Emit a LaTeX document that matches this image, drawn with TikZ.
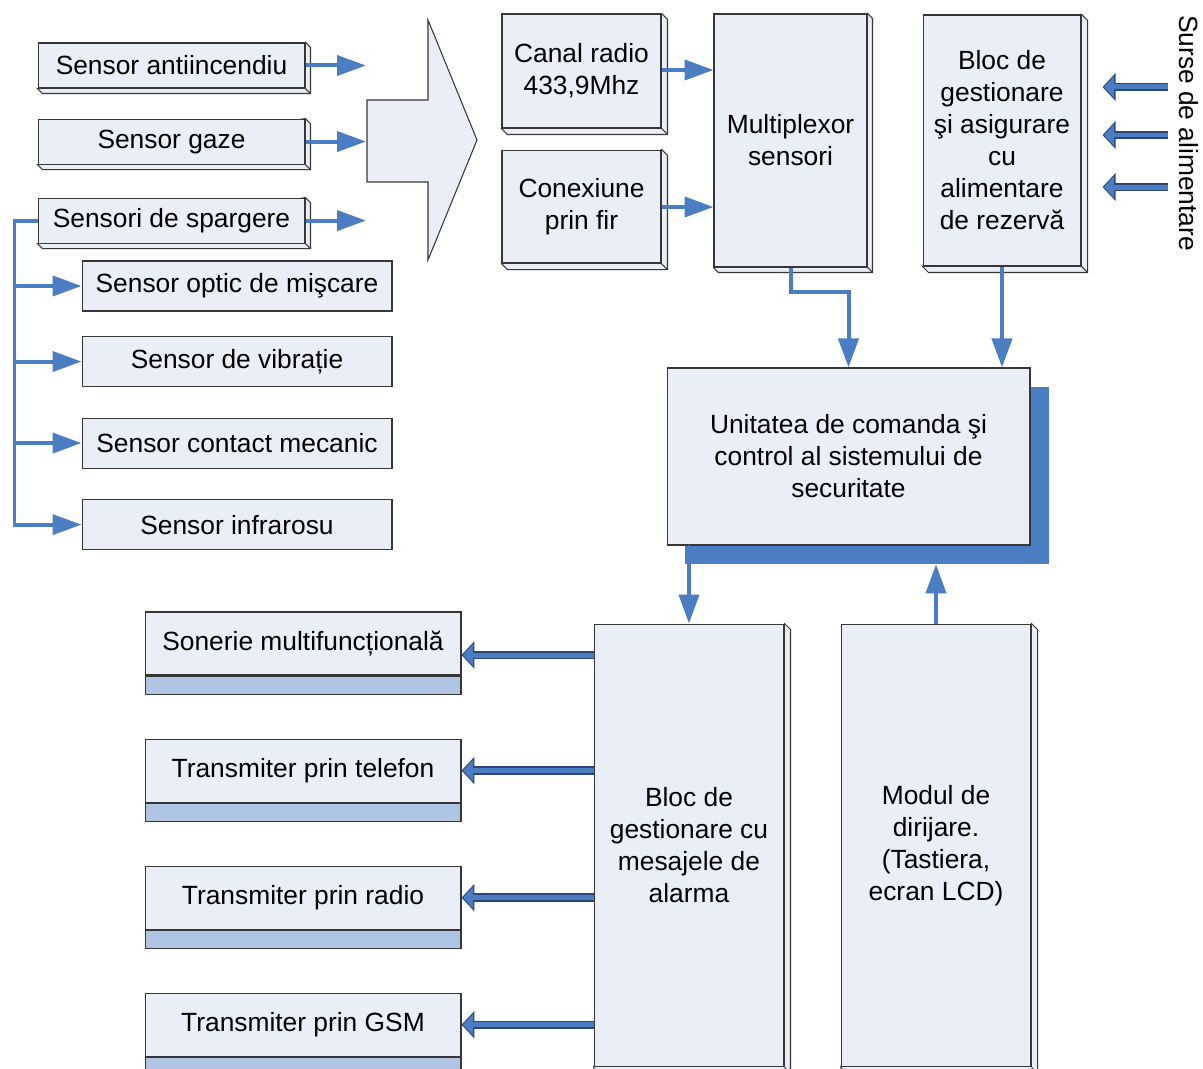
\documentclass[tikz,border=0pt]{standalone}
\usepackage{fontspec}
\setmainfont{Liberation Sans}
\usetikzlibrary{arrows.meta, positioning, backgrounds, calc}
\definecolor{boxfill}{RGB}{233, 238, 247}
\definecolor{edgegray}{RGB}{55, 55, 55}
\definecolor{linkblue}{RGB}{74, 125, 194}
\definecolor{stripblue}{RGB}{176, 196, 228}
\definecolor{arrownavy}{RGB}{45, 70, 115}

\begin{document}
\begin{tikzpicture}[
            x=0.02cm, y=-0.02cm,
            font=\fontsize{15pt}{18.2pt}\selectfont,
            blok/.style={draw=edgegray, line width=0.6pt, fill=boxfill, inner sep=0pt, align=center},
            senzor/.style={blok, minimum width=5.34cm, minimum height=0.9cm},
            flat/.style={blok, minimum width=6.2cm, minimum height=1cm},
            iesire/.style={blok, minimum width=6.32cm, minimum height=1.26cm},
            banda/.style={draw=edgegray, line width=0.6pt, fill=stripblue, inner sep=0pt, minimum width=6.32cm, minimum height=0.37cm},
            bevel/.style={draw=edgegray, line width=0.6pt, fill=boxfill},
            flux/.style={draw=linkblue, line width=0.08cm, -{Triangle[length=0.58cm, width=0.4cm]}},
            bloc/.style={draw=linkblue, line width=0.1cm, -{Triangle[length=0.2cm, width=0.42cm]}, shorten >=0.03cm,
                preaction={draw=arrownavy, line width=0.17cm, -{Triangle[length=0.26cm, width=0.54cm]}, shorten >=0pt}}
        ]
            \useasboundingbox (0,0) rectangle (1203,1068);

            % senzori
            \node[senzor] (antiinc) at (171.5,65.5) {Sensor antiincendiu};
            \node[senzor, below=0.6cm of antiinc] (gaze) {Sensor gaze};
            \node[senzor, below=0.66cm of gaze] (sparg) {Sensori de spargere};
            \node[flat] (optic) at (237,286) {Sensor optic de mişcare};
            \node[flat, below=0.49cm of optic] (vibr) {Sensor de vibrație};
            \node[flat, below=0.61cm of vibr] (contact) {Sensor contact mecanic};
            \node[flat, below=0.61cm of contact] (infra) {Sensor infrarosu};

            % sageata mare
            \draw[bevel] (367,100) -- (428,100) -- (428,20) -- (477,140) -- (428,260) -- (428,182) -- (367,182) -- cycle;
            \coordinate (colector) at (366,141);

            % canale si multiplexor
            \node[blok, minimum width=3.18cm, minimum height=2.28cm] (radio) at (581.5,71) {Canal radio\\433,9Mhz};
            \node[blok, minimum width=3.18cm, minimum height=2.26cm, below=0.42cm of radio] (fir) {Conexiune\\prin fir};
            \node[blok, minimum width=3.06cm, minimum height=5.06cm] (mux) at (790.5,140.5) {Multiplexor\\sensori};
            \node[blok, minimum width=3.16cm, minimum height=5.02cm] (alim) at (1002,140.5) {Bloc de\\gestionare\\şi asigurare\\cu\\alimentare\\de rezervă};
            \node[rotate=-90, inner sep=0pt] (surse) at (1189,133) {Surse de alimentare};

            % unitatea centrala
            \node[fill=linkblue, inner sep=0pt, minimum width=7.28cm, minimum height=3.54cm] (umbra) at (867,475.5) {};
            \node[blok, minimum width=7.26cm, minimum height=3.54cm] (unit) at (848.5,456.5) {Unitatea de comanda şi\\control al sistemului de\\securitate};

            \node[blok, minimum width=3.8cm, minimum height=8.86cm] (alarma) at (689,845.5) {Bloc de\\gestionare cu\\mesajele de\\alarma};
            \node[blok, minimum width=3.8cm, minimum height=8.86cm, right=1.12cm of alarma] (modul) {Modul de\\dirijare.\\(Tastiera,\\ecran LCD)};

            % iesiri
            \node[iesire] (son) at (303,643.5) {Sonerie multifuncțională};
            \node[banda, below=0pt of son] (sonB) {};
            \node[iesire, below=0.87cm of sonB] (tel) {Transmiter prin telefon};
            \node[banda, below=0pt of tel] (telB) {};
            \node[iesire, below=0.87cm of telB] (trad) {Transmiter prin radio};
            \node[banda, below=0pt of trad] (tradB) {};
            \node[iesire, below=0.87cm of tradB] (gsm) {Transmiter prin GSM};
            \node[banda, below=0pt of gsm] (gsmB) {};

            % efect 3D
            \begin{scope}[on background layer]
                \foreach \n/\d in {antiinc/5, gaze/5, sparg/5, radio/6, fir/6, mux/5, alim/6, alarma/6, modul/6} {
                    \draw[bevel] (\n.north east) -- ++(\d,\d) |- ($(\n.south west)+(\d,\d)$) -- (\n.south west) -- cycle;
                    \draw[edgegray, line width=0.6pt] (\n.south east) -- ++(\d,\d);
                }
            \end{scope}

            % legaturi
            \foreach \n in {antiinc, gaze, sparg}
                \draw[flux] (\n.east) -- (\n.east -| colector);
            \draw[flux] (sparg.west) -- ++(-23,0) coordinate (ramura) |- (infra.west);
            \foreach \n in {optic, vibr, contact}
                \draw[flux] (ramura |- \n.west) -- (\n.west);

            \draw[flux] (radio.east |- 0,70) -- (mux.west |- 0,70);
            \draw[flux] (fir.east |- 0,207) -- (mux.west |- 0,207);
            \draw[flux] (mux.south) -- ++(0,24) -| (unit.north);
            \draw[flux] (alim.south) -- (alim.south |- unit.north);
            \foreach \y in {87, 135, 187}
                \draw[bloc] ($(surse.south |- 0,\y)+(-11,0)$) -- ($(alim.east |- 0,\y)+(21,0)$);

            \draw[flux, {Circle[length=0.14cm]}-{Triangle[length=0.58cm, width=0.4cm]}] (alarma.north |- unit.south) -- (alarma.north);
            \draw[flux] (modul.north) -- (modul.north |- umbra.south);

            \draw[bloc] (alarma.west |- 0,655) -- (son.east |- 0,655);
            \foreach \n in {tel, trad, gsm}
                \draw[bloc] (alarma.west |- \n.east) -- (\n.east);
        \end{tikzpicture}
\end{document}
